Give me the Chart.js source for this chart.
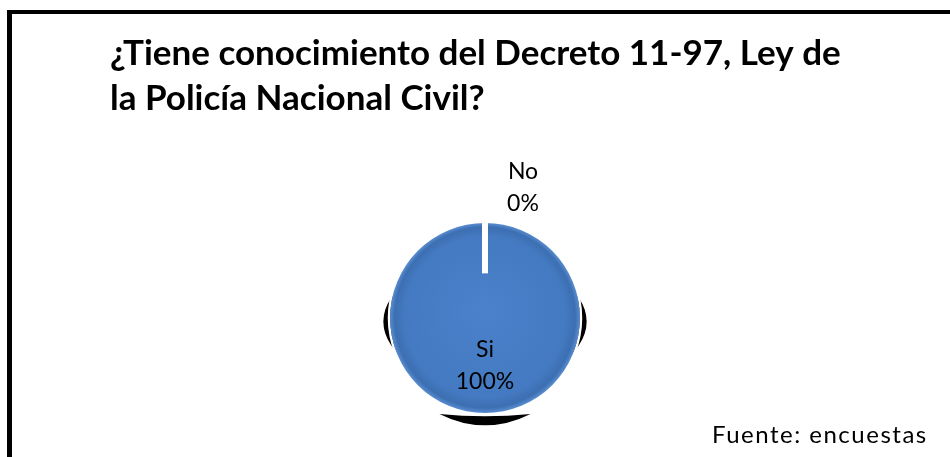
<!DOCTYPE html>
<html>
<head>
<meta charset="utf-8">
<script src="https://cdn.jsdelivr.net/npm/chart.js@4.4.1/dist/chart.umd.min.js"></script>
<style>
  body { margin: 0; background: #fff; }
  #wrap { position: relative; width: 950px; height: 457px; overflow: hidden; background: #fff; }
  #frame { position: absolute; left: 7px; top: 10px; right: -10px; bottom: -10px;
           border-left: 5px solid #000; border-top: 4px solid #000; }
  #chart { position: absolute; left: 0; top: 0; }
  #source { position: absolute; left: 712px; top: 419px; font-family: Lato, sans-serif;
            font-size: 24px; letter-spacing: 1.5px; color: #000; white-space: nowrap; }
</style>
</head>
<body>
<div id="wrap">
  <div id="frame"></div>
  <canvas id="chart" width="950" height="457"></canvas>
  <div id="source">Fuente: encuestas</div>
</div>
<script>
const titleLines = ['¿Tiene conocimiento del Decreto 11-97, Ley de', 'la Policía Nacional Civil?'];
const categories = ['No', 'Si'];
const values = [0, 100];

// sombra negra detrás del pastel (lados y abajo)
const shadowPlugin = {
    id: 'shadow',
    beforeDatasetsDraw(chart) {
        const arc = chart.getDatasetMeta(0).data[0];
        if (!arc) return;
        const { x, y, outerRadius: r } = arc.getProps(['x', 'y', 'outerRadius'], true);
        const ctx = chart.ctx;
        ctx.save();
        ctx.fillStyle = '#000';
        // lados
        ctx.beginPath();
        ctx.ellipse(x, y + 0.037 * r, 1.07 * r, 0.65 * r, 0, 0, Math.PI * 2);
        ctx.fill();
        // abajo
        ctx.beginPath();
        ctx.moveTo(x - 0.48 * r, y + 1.01 * r);
        ctx.quadraticCurveTo(x, y + 1.25 * r, x + 0.48 * r, y + 1.01 * r);
        ctx.quadraticCurveTo(x, y + 1.06 * r, x - 0.48 * r, y + 1.01 * r);
        ctx.fill();
        // pequeño borde blanco
        ctx.strokeStyle = '#fff';
        ctx.lineWidth = 2.5;
        ctx.beginPath();
        ctx.arc(x, y, r + 1, 0, Math.PI * 2);
        ctx.stroke();
        ctx.restore();
    }
};

// línea blanca del 0% y etiquetas
const labelPlugin = {
    id: 'sliceLabels',
    afterDatasetsDraw(chart) {
        const meta = chart.getDatasetMeta(0);
        const ctx = chart.ctx;
        const total = values.reduce((a, b) => a + b, 0);
        ctx.save();
        meta.data.forEach((arc, i) => {
            const { x, y, outerRadius: r, startAngle } = arc.getProps(['x', 'y', 'outerRadius', 'startAngle'], true);
            const pct = Math.round(values[i] / total * 100) + '%';
            let lx, ly;
            if (values[i] === 0) {
                ctx.strokeStyle = '#fff';
                ctx.lineWidth = 6;
                ctx.beginPath();
                ctx.moveTo(x + Math.cos(startAngle) * (r + 1), y + Math.sin(startAngle) * (r + 1));
                ctx.lineTo(x + Math.cos(startAngle) * 0.47 * r, y + Math.sin(startAngle) * 0.47 * r);
                ctx.stroke();
                lx = x + 0.4 * r;
                ly = y - 1.37 * r;
            } else {
                const p = arc.tooltipPosition(true);
                lx = p.x;
                ly = p.y;
            }
            ctx.fillStyle = '#000';
            ctx.font = '23px Lato';
            ctx.textAlign = 'center';
            ctx.textBaseline = 'middle';
            ctx.fillText(categories[i], lx, ly - 16);
            ctx.fillText(pct, lx, ly + 16);
        });
        ctx.restore();
    }
};

function pieFill(context) {
    const chart = context.chart;
    const area = chart.chartArea;
    if (!area) return '#4A7EC4';
    const cx = (area.left + area.right) / 2;
    const cy = (area.top + area.bottom) / 2;
    const r = Math.min(area.right - area.left, area.bottom - area.top) / 2;
    const g = chart.ctx.createRadialGradient(cx, cy - 0.1 * r, 0, cx, cy, r);
    g.addColorStop(0, '#4A81CA');
    g.addColorStop(0.85, '#447AC1');
    g.addColorStop(0.95, '#3C6FB2');
    g.addColorStop(1, '#5A8DD0');
    return g;
}

const ctx = document.getElementById('chart').getContext('2d');

new Chart(ctx, {
    type: 'pie',
    data: {
        labels: categories,
        datasets: [{
            data: values,
            backgroundColor: pieFill,
            borderWidth: 0,
            hoverOffset: 0
        }]
    },
    options: {
        responsive: false,
        animation: false,
        layout: {
            padding: { left: 110, right: 90, top: 0, bottom: 44 }
        },
        plugins: {
            legend: { display: false },
            tooltip: { enabled: false },
            title: {
                display: true,
                text: titleLines,
                align: 'start',
                color: '#000',
                font: { family: 'Lato', size: 35, weight: 'bold', lineHeight: 45 / 35 },
                padding: { top: 31, bottom: 102 }
            }
        }
    },
    plugins: [shadowPlugin, labelPlugin]
});
</script>
</body>
</html>
